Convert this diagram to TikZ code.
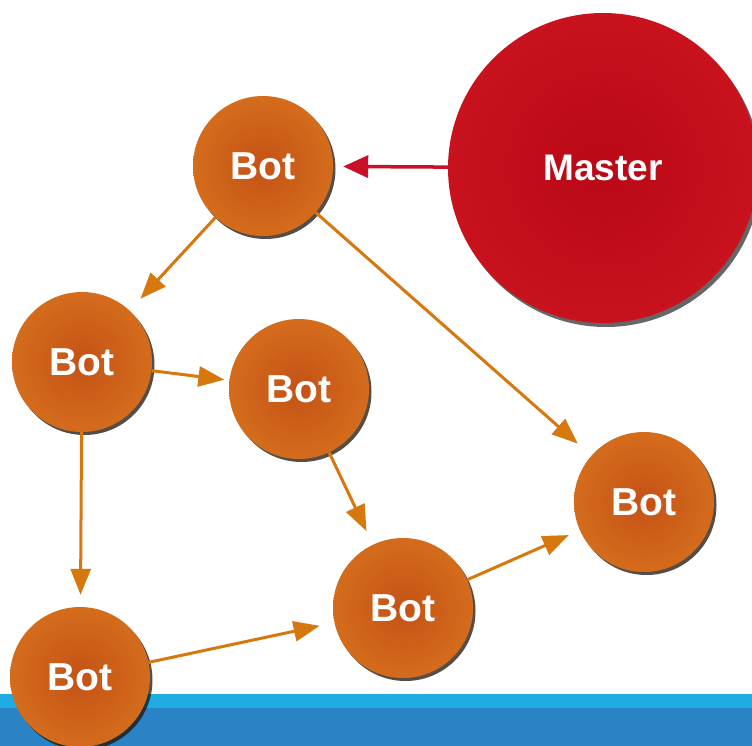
\documentclass[tikz,border=0pt]{standalone}
\usepackage{fontspec}
\setmainfont{Liberation Sans}
\usetikzlibrary{arrows.meta,shadows}
\definecolor{botorange}{RGB}{196,82,22}
\definecolor{botedge}{RGB}{212,108,28}
\definecolor{linkorange}{RGB}{214,120,14}
\definecolor{masterred}{RGB}{186,8,22}
\definecolor{masteredge}{RGB}{200,18,30}
\definecolor{masterarrow}{RGB}{200,16,40}
\definecolor{bandlight}{RGB}{30,172,226}
\definecolor{banddark}{RGB}{41,131,197}
\tikzset{
  bot/.style={circle, minimum size=140pt, inner sep=0pt,
    shading=radial, inner color=botorange, outer color=botedge,
    drop shadow={shadow xshift=2.5pt, shadow yshift=-3pt, opacity=0.75, fill=black!85!brown},
    text=white, font=\bfseries\fontsize{39}{39}\selectfont},
  master/.style={circle, minimum size=310pt, inner sep=0pt,
    shading=radial, inner color=masterred, outer color=masteredge,
    drop shadow={shadow xshift=3pt, shadow yshift=-4pt, opacity=0.7, fill=black!85},
    text=white, font=\bfseries\fontsize{37}{37}\selectfont},
  link/.style={draw=linkorange, line width=3pt,
    -{Triangle[length=26pt,width=20pt]}},
  mlink/.style={draw=masterarrow, line width=3.5pt,
    -{Triangle[length=25pt,width=22pt]}}
}
\begin{document}
\begin{tikzpicture}[x=1pt,y=-1pt]
\useasboundingbox (0,0) rectangle (752,746);
\clip (0,0) rectangle (752,746);
\fill[white] (0,0) rectangle (752,746);
% bottom band
\fill[bandlight] (0,694) rectangle (752,708);
\fill[banddark] (0,708) rectangle (752,746);
% nodes
\node[master] (m) at (603,168) {Master};
\node[bot] (b1) at (263,166) {Bot};
\node[bot] (b2) at (82,362) {Bot};
\node[bot] (b3) at (299,389) {Bot};
\node[bot] (b4) at (644,502) {Bot};
\node[bot] (b5) at (403,608) {Bot};
\node[bot] (b6) at (80,677) {Bot};
% connectors
\draw[mlink, shorten >=10pt] (m) -- (b1);
\draw[link, shorten >=16pt] (b1) -- (b2);
\draw[link, shorten >=18pt] (b1) -- (b4);
\draw[link, shorten >=5pt] (b2) -- (b3);
\draw[link, shorten >=12pt] (b2) -- (b6);
\draw[link, shorten >=15pt] (b3) -- (b5);
\draw[link, shorten >=15pt] (b6) -- (b5);
\draw[link, shorten >=12pt] (b5) -- (b4);
\end{tikzpicture}
\end{document}
